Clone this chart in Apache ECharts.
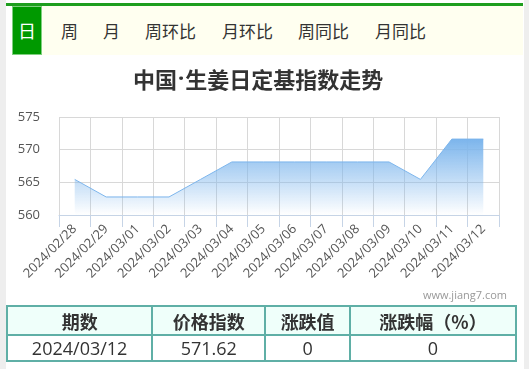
<!DOCTYPE html>
<html><head><meta charset="utf-8">
<script src="https://cdn.jsdelivr.net/npm/echarts@6/dist/echarts.min.js"></script>
<style>
html,body{margin:0;padding:0;width:529px;height:369px;overflow:hidden;background:#fff;font-family:"Noto Sans CJK SC","Noto Sans",sans-serif;}
#strip-l{position:absolute;left:0;top:0;width:6px;height:369px;background:#eeeeee;}
#strip-r{position:absolute;left:524px;top:0;width:5px;height:369px;background:#eeeeee;}
#topline{position:absolute;left:6px;top:3px;width:517px;height:3px;background:#1e9e1e;}
#tabs{position:absolute;left:42px;top:6px;width:481px;height:49px;background:#fffff0;}
#tab-on{position:absolute;left:12px;top:6px;width:28px;height:47px;background:#009900;border:1px solid #7fcf7f;color:#fff;font-size:18px;line-height:47px;text-align:center;}
.tab{position:absolute;top:6px;height:49px;line-height:49px;font-size:17px;color:#333;}
#chart{position:absolute;left:0;top:0;width:529px;height:369px;}
table{position:absolute;left:6px;top:305px;width:511px;border-collapse:collapse;font-size:18px;color:#333;}
td,th{border:2px solid #5fafa6;text-align:center;padding:0;}
th{background:#effffa;font-weight:bold;height:27px;}
td{height:23px;font-family:"Open Sans","Noto Sans CJK SC",sans-serif;}
</style></head>
<body>
<div id="chart"></div>
<div id="strip-l"></div><div id="strip-r"></div>
<div id="topline"></div>
<div id="tabs"></div>
<div id="tab-on">日</div>
<div class="tab" style="left:61px">周</div>
<div class="tab" style="left:103px">月</div>
<div class="tab" style="left:145px">周环比</div>
<div class="tab" style="left:222px">月环比</div>
<div class="tab" style="left:298px">周同比</div>
<div class="tab" style="left:375px">月同比</div>
<table id="tbl"><tr id="hdr"></tr><tr id="row"></tr></table>
<script>
var categories = ['2024/02/28','2024/02/29','2024/03/01','2024/03/02','2024/03/03','2024/03/04','2024/03/05','2024/03/06','2024/03/07','2024/03/08','2024/03/09','2024/03/10','2024/03/11','2024/03/12'];
var values = [565.45, 562.76, 562.76, 562.76, 565.44, 568.12, 568.12, 568.12, 568.12, 568.12, 568.12, 565.45, 571.62, 571.62];
var yTicks = [560, 565, 570, 575];
var tableHeaders = ['期数','价格指数','涨跌值','涨跌幅（%）'];
var tableRow = ['2024/03/12','571.62','0','0'];
var colWidths = [145, 113, 85, 168];

var hdr = document.getElementById('hdr'), row = document.getElementById('row');
tableHeaders.forEach(function(h,i){var th=document.createElement('th');th.textContent=h;th.style.width=colWidths[i]+'px';hdr.appendChild(th);});
tableRow.forEach(function(v){var td=document.createElement('td');td.textContent=v;row.appendChild(td);});

var chart = echarts.init(document.getElementById('chart'));
chart.setOption({
  animation:false,
  title:{text:'{a|中国}{b|·}{a|生姜日定基指数走势}',left:128,top:64,
    textStyle:{rich:{
      a:{fontSize:22,fontWeight:'bold',color:'#333',fontFamily:'Noto Sans CJK SC'},
      b:{fontSize:22,fontWeight:'bold',color:'#333',fontFamily:'Noto Sans',padding:[0,1,0,1]}}}},
  graphic:[{type:'text',right:22,top:290,style:{text:'www.jiang7.com',fontSize:11,fill:'#999',fontFamily:'Open Sans'}}],
  grid:{left:59,top:117,width:440,height:98},
  xAxis:{type:'category',data:categories,boundaryGap:true,
    axisLine:{lineStyle:{color:'#c6d4e6',width:1}},
    axisTick:{show:true,length:12,lineStyle:{color:'#c6d4e6'}},
    splitLine:{show:true,lineStyle:{color:'#d8d8d8',width:1}},
    axisLabel:{rotate:45,fontSize:13,color:'#555',margin:12,fontFamily:'Open Sans',interval:0}},
  yAxis:{type:'value',min:yTicks[0],max:yTicks[yTicks.length-1],interval:5,
    axisLine:{show:false},axisTick:{show:false},
    splitLine:{lineStyle:{color:'#d8d8d8',width:1}},
    axisLabel:{fontSize:13,color:'#555',margin:19,fontFamily:'Open Sans'}},
  series:[{type:'line',data:values,symbol:'none',smooth:false,
    lineStyle:{color:'#7cb5ec',width:1},
    areaStyle:{opacity:1,color:new echarts.graphic.LinearGradient(0,0,0,1,[{offset:0,color:'rgba(124,181,236,1)'},{offset:1,color:'rgba(124,181,236,0)'}])}}]
});
</script>
</body></html>
